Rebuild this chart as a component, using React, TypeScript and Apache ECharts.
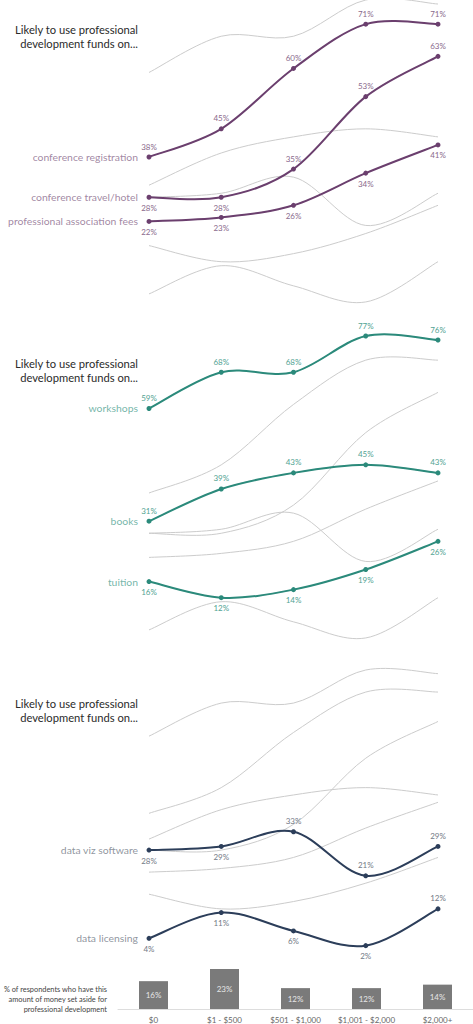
import React, { useEffect, useRef } from "react";
import * as echarts from "echarts";

// ---------- DATA ----------
const categories = ["$0", "$1 - $500", "$501 - $1,000", "$1,001 - $2,000", "$2,000+"];
const workshops = [59, 68, 68, 77, 76];
const conferenceRegistration = [38, 45, 60, 71, 71];
const conferenceTravel = [28, 28, 35, 53, 63];
const books = [31, 39, 43, 45, 43];
const associationFees = [22, 23, 26, 34, 41];
const dataVizSoftware = [28, 29, 33, 21, 29];
const tuition = [16, 12, 14, 19, 26];
const dataLicensing = [4, 11, 6, 2, 12];
const moneySetAside = [16, 23, 12, 12, 14];

const seriesNames = [
  "workshops",
  "conference registration",
  "conference travel/hotel",
  "books",
  "professional association fees",
  "data viz software",
  "tuition",
  "data licensing",
];
const seriesValues = [
  workshops,
  conferenceRegistration,
  conferenceTravel,
  books,
  associationFees,
  dataVizSoftware,
  tuition,
  dataLicensing,
];

const panel1 = ["conference registration", "conference travel/hotel", "professional association fees"];
const panel2 = ["workshops", "books", "tuition"];
const panel3 = ["data viz software", "data licensing"];

// ---------- STYLE ----------
const T = "top";
const B = "bottom";
const labelSide: Record<string, string[]> = {
  "conference registration": [T, T, T, T, T],
  "conference travel/hotel": [B, B, T, T, T],
  "professional association fees": [B, B, B, B, B],
  workshops: [T, T, T, T, T],
  books: [T, T, T, T, T],
  tuition: [B, B, B, B, B],
  "data viz software": [B, B, T, T, T],
  "data licensing": [B, B, B, B, T],
};

const FONT = "Lato, 'Open Sans', sans-serif";
const TITLE = "Likely to use professional\ndevelopment funds on...";

const panels = [
  { top: 0, height: 310, line: "#6b3f6e", text: "#8a6a8c", names: panel1, titleY: 23 },
  { top: 336, height: 310, line: "#2b8a7b", text: "#52a393", names: panel2, titleY: 357 },
  { top: 670, height: 283, line: "#2c3e5a", text: "#737a86", names: panel3, titleY: 697 },
];

// Catmull-Rom segment renderer drawn through the axis scales
function curveRenderer(vals: number[], color: string, width: number) {
  return (params: any, api: any) => {
    const i = params.dataIndex;
    const n = vals.length;
    if (i >= n - 1) return null;
    const pt = (k: number) => {
      const c = Math.max(0, Math.min(n - 1, k));
      return api.coord([c, vals[c]]);
    };
    const p0 = pt(i - 1);
    const p1 = pt(i);
    const p2 = pt(i + 1);
    const p3 = pt(i + 2);
    return {
      type: "bezierCurve",
      silent: true,
      shape: {
        x1: p1[0],
        y1: p1[1],
        x2: p2[0],
        y2: p2[1],
        cpx1: p1[0] + (p2[0] - p0[0]) / 6,
        cpy1: p1[1] + (p2[1] - p0[1]) / 6,
        cpx2: p2[0] - (p3[0] - p1[0]) / 6,
        cpy2: p2[1] - (p3[1] - p1[1]) / 6,
      },
      style: { stroke: color, lineWidth: width, fill: "none" },
    };
  };
}

export default function App() {
  const ref = useRef<HTMLDivElement>(null);

  useEffect(() => {
    if (!ref.current) return;
    const chart = echarts.init(ref.current, null, { renderer: "svg" });

    const grid: any[] = [];
    const xAxis: any[] = [];
    const yAxis: any[] = [];
    const series: any[] = [];
    const graphic: any[] = [];

    panels.forEach((p, gi) => {
      grid.push({ left: 149, width: 289, top: p.top, height: p.height, outerBoundsMode: "none" });
      xAxis.push({ type: "category", gridIndex: gi, data: categories, boundaryGap: false, show: false });
      yAxis.push({ type: "value", gridIndex: gi, min: 0, max: 77, show: false });

      // gray context lines
      seriesNames.forEach((name, si) => {
        const vals = seriesValues[si];
        series.push({
          type: "custom",
          xAxisIndex: gi,
          yAxisIndex: gi,
          silent: true,
          z: 1,
          data: vals.map((v, i) => [i, v]),
          encode: { x: 0, y: 1 },
          renderItem: curveRenderer(vals, "#cccccc", 1),
        });
      });

      // highlighted lines
      p.names.forEach((name) => {
        const vals = seriesValues[seriesNames.indexOf(name)];
        series.push({
          type: "custom",
          xAxisIndex: gi,
          yAxisIndex: gi,
          silent: true,
          z: 3,
          data: vals.map((v, i) => [i, v]),
          encode: { x: 0, y: 1 },
          renderItem: curveRenderer(vals, p.line, 2),
        });
        series.push({
          type: "scatter",
          xAxisIndex: gi,
          yAxisIndex: gi,
          symbol: "circle",
          symbolSize: 5,
          silent: true,
          z: 4,
          itemStyle: { color: p.line, opacity: 1 },
          data: vals.map((v, i) => ({
            value: [i, v],
            label: {
              show: true,
              position: labelSide[name][i],
              distance: 4,
              formatter: `${v}%`,
              color: p.text,
              fontSize: 8,
              fontFamily: FONT,
            },
          })),
        });
        // name label at the first point
        series.push({
          type: "scatter",
          xAxisIndex: gi,
          yAxisIndex: gi,
          symbolSize: 0,
          silent: true,
          z: 4,
          data: [[0, vals[0]]],
          label: {
            show: true,
            position: "left",
            distance: 11,
            formatter: name,
            color: p.text,
            fontSize: 10.4,
            fontFamily: FONT,
          },
        });
      });

      graphic.push({
        type: "text",
        x: 138,
        y: p.titleY,
        style: {
          text: TITLE,
          fill: "#2b2b2b",
          font: `11.2px ${FONT}`,
          align: "right",
          verticalAlign: "top",
          lineHeight: 13.5,
        },
      });
    });

    // bar grid
    const bi = panels.length;
    grid.push({ left: 118, right: 0, top: 965.5, height: 43.5, outerBoundsMode: "none" });
    xAxis.push({
      type: "category",
      gridIndex: bi,
      data: categories,
      boundaryGap: true,
      axisLine: { show: true, lineStyle: { color: "#dddddd", width: 1 } },
      axisTick: { show: false },
      axisLabel: { color: "#666666", fontSize: 8, fontFamily: FONT, margin: 7, interval: 0 },
    });
    yAxis.push({ type: "value", gridIndex: bi, min: 0, max: 25, show: false });
    series.push({
      type: "bar",
      xAxisIndex: bi,
      yAxisIndex: bi,
      data: moneySetAside,
      barWidth: 29,
      silent: true,
      itemStyle: { color: "#7a7a7a" },
      label: {
        show: true,
        position: "inside",
        formatter: "{c}%",
        color: "#e6e6e6",
        fontSize: 8,
        fontFamily: FONT,
      },
    });
    graphic.push({
      type: "text",
      x: 107,
      y: 984,
      style: {
        text: "% of respondents who have this\namount of money set aside for\nprofessional development",
        fill: "#444444",
        font: `7.4px ${FONT}`,
        align: "right",
        verticalAlign: "top",
        lineHeight: 10,
      },
    });

    chart.setOption({
      animation: false,
      grid,
      xAxis,
      yAxis,
      series,
      graphic,
    });

    return () => chart.dispose();
  }, []);

  return (
    <div
      ref={ref}
      style={{ position: "absolute", left: 0, top: 0, width: 473, height: 1024, background: "#ffffff" }}
    />
  );
}
